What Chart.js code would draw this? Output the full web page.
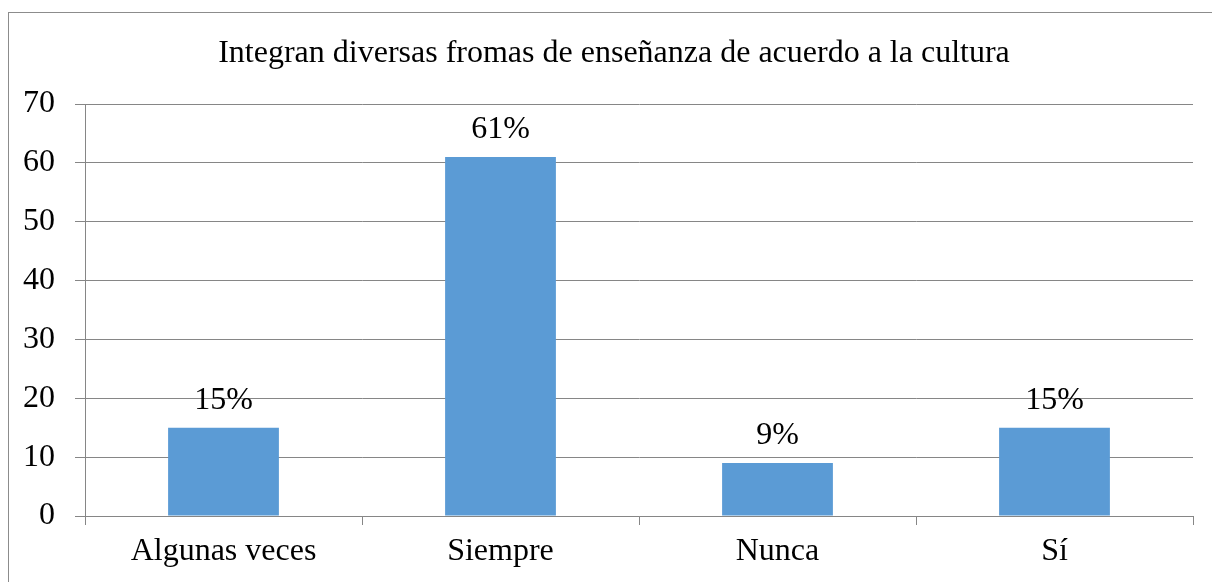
<!DOCTYPE html>
<html>
<head>
<meta charset="utf-8">
<script src="https://cdn.jsdelivr.net/npm/chart.js@4"></script>
<style>
  html, body { margin: 0; padding: 0; background: #fff; overflow: hidden; }
  #frame { position: absolute; left: 8px; top: 12px; width: 1400px; height: 800px; border-left: 1px solid #8c8c8c; border-top: 1px solid #8c8c8c; }
  #wrap { position: absolute; left: 0; top: 0; width: 1212px; height: 582px; }
</style>
</head>
<body>
<div id="frame"></div>
<div id="wrap"><canvas id="c" width="1212" height="582"></canvas></div>
<script>
const titleText = "Integran diversas fromas de enseñanza de acuerdo a la cultura";
const categories = ["Algunas veces", "Siempre", "Nunca", "Sí"];
const values = [15, 61, 9, 15];
const valueLabels = ["15%", "61%", "9%", "15%"];
const yTicks = [0, 10, 20, 30, 40, 50, 60, 70];

const FONT = "'Liberation Serif', 'Times New Roman', serif";
const GRID = "#868686";
const FS = 32;

const dataLabels = {
  id: 'dataLabels',
  afterDatasetsDraw(chart) {
    const ctx = chart.ctx;
    const meta = chart.getDatasetMeta(0);
    ctx.save();
    ctx.font = FS + "px " + FONT;
    ctx.fillStyle = "#000";
    ctx.textAlign = "center";
    ctx.textBaseline = "alphabetic";
    meta.data.forEach((bar, i) => {
      ctx.fillText(valueLabels[i], bar.x, bar.y - 19);
    });
    ctx.restore();
  }
};

const chartTitle = {
  id: 'chartTitle',
  afterDraw(chart) {
    const ctx = chart.ctx;
    ctx.save();
    ctx.font = FS + "px " + FONT;
    ctx.fillStyle = "#000";
    ctx.textAlign = "center";
    ctx.textBaseline = "alphabetic";
    ctx.fillText(titleText, 614, 62);
    ctx.restore();
  }
};

new Chart(document.getElementById('c'), {
  type: 'bar',
  data: {
    labels: categories,
    datasets: [{
      data: values,
      backgroundColor: '#5B9BD5',
      borderWidth: 0,
      barPercentage: 0.4,
      categoryPercentage: 1.0
    }]
  },
  options: {
    responsive: false,
    animation: false,
    layout: { padding: { left: 0, right: 19, top: 104, bottom: 0 } },
    plugins: {
      legend: { display: false },
      tooltip: { enabled: false },
      title: { display: false }
    },
    scales: {
      x: {
        grid: { display: true, drawOnChartArea: false, drawTicks: true, tickLength: 9, color: GRID, lineWidth: 1, offset: true },
        border: { display: true, color: GRID, width: 1 },
        ticks: { color: '#000', font: { family: FONT, size: FS }, padding: 7, maxRotation: 0 },
        afterFit(scale) { scale.height = 66; }
      },
      y: {
        min: 0, max: 70,
        afterBuildTicks(scale) { scale.ticks = yTicks.map(v => ({ value: v })); },
        grid: { display: true, drawOnChartArea: true, drawTicks: true, tickLength: 10, color: GRID, lineWidth: 1 },
        border: { display: true, color: GRID, width: 1 },
        ticks: { color: '#000', font: { family: FONT, size: FS }, padding: 20 },
        afterFit(scale) { scale.width = 85; }
      }
    }
  },
  plugins: [dataLabels, chartTitle]
});
</script>
</body>
</html>
